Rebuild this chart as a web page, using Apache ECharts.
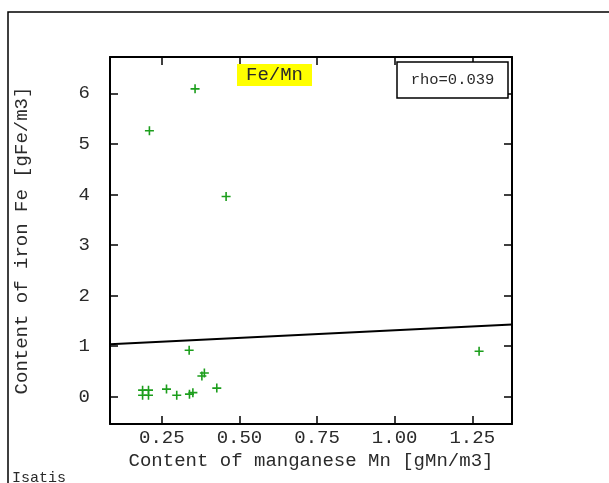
<!DOCTYPE html>
<html>
<head>
<meta charset="utf-8">
<script src="https://cdn.jsdelivr.net/npm/echarts@6/dist/echarts.min.js"></script>
<style>html,body{margin:0;padding:0;background:#fff}#c{width:609px;height:483px}</style>
</head>
<body>
<div id="c"></div>
<script>
// Data
var mnValues = [0.357, 0.210, 0.457, 0.338, 1.272, 0.188, 0.207, 0.188, 0.207, 0.265, 0.298, 0.339, 0.350, 0.379, 0.387, 0.427];
var feValues = [6.09, 5.26, 3.96, 0.92, 0.90, 0.13, 0.13, 0.03, 0.03, 0.15, 0.03, 0.05, 0.08, 0.41, 0.47, 0.17];
var regressionX = [0.083, 1.378];
var regressionY = [1.04, 1.43];
var xTicks = [0.25, 0.50, 0.75, 1.00, 1.25];
var yTicks = [0, 1, 2, 3, 4, 5, 6];
var xRange = [0.083, 1.378];
var yRange = [-0.54, 6.72];
var titleText = 'Fe/Mn';
var rhoText = 'rho=0.039';
var xName = 'Content of manganese Mn [gMn/m3]';
var yName = 'Content of iron Fe [gFe/m3]';
var footText = 'Isatis';

var FONT = '"Liberation Mono", "DejaVu Sans Mono", monospace';
var TXT = '#2a2a2a';
var scatterData = mnValues.map(function (v, i) { return [v, feValues[i]]; });
var lineData = regressionX.map(function (v, i) { return [v, regressionY[i]]; });
var plus = 'path://M3.7,0h1.6v3.7h3.7v1.6h-3.7v3.7h-1.6v-3.7h-3.7v-1.6h3.7z';

var axisBase = {
  type: 'value',
  axisLine: { show: true, onZero: false, lineStyle: { color: '#000', width: 2 } },
  splitLine: { show: false }
};

var chart = echarts.init(document.getElementById('c'), null, { renderer: 'canvas' });
chart.setOption({
  animation: false,
  backgroundColor: '#fff',
  grid: { left: 110, right: 97, top: 57, bottom: 59, containLabel: false, outerBoundsMode: 'none' },
  xAxis: [
    Object.assign({}, axisBase, {
      position: 'bottom', min: xRange[0], max: xRange[1],
      name: xName, nameLocation: 'middle', nameGap: 26,
      nameTextStyle: { fontFamily: FONT, fontSize: 19, color: TXT },
      axisTick: { show: true, inside: true, length: 8, customValues: xTicks, lineStyle: { color: '#000', width: 1.5 } },
      axisLabel: { show: true, margin: 4, customValues: xTicks, fontFamily: FONT, fontSize: 19, color: TXT,
        formatter: function (v) { return v.toFixed(2); } }
    }),
    Object.assign({}, axisBase, {
      position: 'top', min: xRange[0], max: xRange[1],
      axisTick: { show: true, inside: true, length: 8, customValues: xTicks, lineStyle: { color: '#000', width: 1.5 } },
      axisLabel: { show: false }
    })
  ],
  yAxis: [
    Object.assign({}, axisBase, {
      position: 'left', min: yRange[0], max: yRange[1],
      name: yName, nameLocation: 'middle', nameGap: 79, nameRotate: 90,
      nameTextStyle: { fontFamily: FONT, fontSize: 19, color: TXT },
      axisTick: { show: true, inside: true, length: 8, customValues: yTicks, lineStyle: { color: '#000', width: 1.5 } },
      axisLabel: { show: true, margin: 20, customValues: yTicks, fontFamily: FONT, fontSize: 19, color: TXT }
    }),
    Object.assign({}, axisBase, {
      position: 'right', min: yRange[0], max: yRange[1],
      axisTick: { show: true, inside: true, length: 8, customValues: yTicks, lineStyle: { color: '#000', width: 1.5 } },
      axisLabel: { show: false }
    })
  ],
  series: [
    {
      type: 'line', data: lineData, xAxisIndex: 0, yAxisIndex: 0,
      symbol: 'none', lineStyle: { color: '#000', width: 2 }, silent: true, z: 2
    },
    {
      type: 'scatter', data: scatterData, xAxisIndex: 0, yAxisIndex: 0,
      symbol: plus, symbolSize: 9, itemStyle: { color: '#1c9e1c', opacity: 1 }, z: 3
    }
  ],
  graphic: [
    { type: 'rect', shape: { x: 8, y: 12, width: 700, height: 600 }, style: { fill: 'none', stroke: '#000', lineWidth: 1.5 }, z: 0, silent: true },
    { type: 'rect', shape: { x: 237, y: 64, width: 75, height: 22 }, style: { fill: '#ffff00' }, z: 10 },
    { type: 'text', x: 274.5, y: 75, style: { text: titleText, fill: TXT, font: '19px ' + FONT, align: 'center', verticalAlign: 'middle' }, z: 11 },
    { type: 'rect', shape: { x: 397, y: 62, width: 111, height: 36 }, style: { fill: '#fff', stroke: '#000', lineWidth: 1.5 }, z: 10 },
    { type: 'text', x: 452.5, y: 80, style: { text: rhoText, fill: TXT, font: '15.5px ' + FONT, align: 'center', verticalAlign: 'middle' }, z: 11 },
    { type: 'text', x: 12, y: 471, style: { text: footText, fill: TXT, font: '15px ' + FONT, align: 'left', verticalAlign: 'top' }, z: 11 }
  ]
});
</script>
</body>
</html>
